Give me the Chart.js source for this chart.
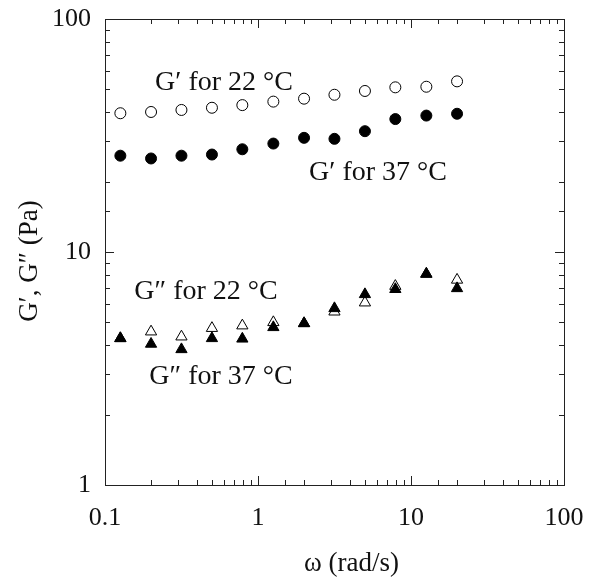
<!DOCTYPE html>
<html>
<head>
<meta charset="utf-8">
<script src="https://cdn.jsdelivr.net/npm/chart.js@4"></script>
<style>
  html, body { margin: 0; padding: 0; background: #fff; }
  #wrap { width: 596px; height: 578px; }
</style>
</head>
<body>
<div id="wrap"><canvas id="chart"></canvas></div>
<script>
// angular frequency (rad/s)
const omega = [0.126, 0.2, 0.316, 0.5, 0.79, 1.26, 2, 3.16, 5, 7.9, 12.6, 20];
// storage modulus G' (Pa)
const gPrime22 = [39.4, 39.9, 40.7, 41.6, 42.7, 44.2, 45.5, 47.3, 49.1, 50.9, 51.2, 54.0];
const gPrime37 = [25.9, 25.2, 25.9, 26.2, 27.6, 29.2, 30.9, 30.6, 33.0, 37.2, 38.5, 39.2];
// loss modulus G'' (Pa)
const gDouble22 = [4.26, 4.55, 4.33, 4.71, 4.83, 4.99, 4.94, 5.54, 6.06, 7.14, 8.05, 7.59];
const gDouble37 = [4.26, 4.03, 3.82, 4.26, 4.24, 4.75, 4.94, 5.73, 6.58, 6.92, 8.05, 6.98];
// labels only at the decades
const xTickLabels = [0.1, 1, 10, 100];
const yTickLabels = [1, 10, 100];

const FONT = "'Liberation Serif', 'Times New Roman', serif";

function pts(ys) {
    return omega.map(function (x, i) { return { x: x, y: ys[i] }; });
}

function isDecade(v) {
    var l = Math.log10(v);
    return Math.abs(l - Math.round(l)) < 1e-9;
}

// the text labels next to the series, placed in data coordinates
const notes = [
    { text: "G\u2032 for 22 \u00B0C", x: 0.60, y: 53.1 },
    { text: "G\u2032 for 37 \u00B0C", x: 6.09, y: 21.8 },
    { text: "G\u2033 for 22 \u00B0C", x: 0.457, y: 6.74 },
    { text: "G\u2033 for 37 \u00B0C", x: 0.573, y: 2.91 }
];

// box round the plot with inward ticks on all four sides, axis titles and the notes
const framePlugin = {
    id: 'frame',
    afterDraw: function (chart) {
        var ctx = chart.ctx;
        var a = chart.chartArea;
        var xs = chart.scales.x, ys = chart.scales.y;
        ctx.save();
        ctx.strokeStyle = '#222';
        ctx.lineWidth = 1;
        ctx.strokeRect(a.left + 0.5, a.top + 0.5, a.right - a.left, a.bottom - a.top);
        ctx.beginPath();
        xs.ticks.forEach(function (t) {
            var px = Math.round(xs.getPixelForValue(t.value)) + 0.5;
            var len = isDecade(t.value) ? 9 : 5;
            ctx.moveTo(px, a.bottom); ctx.lineTo(px, a.bottom - len);
            ctx.moveTo(px, a.top); ctx.lineTo(px, a.top + len);
        });
        ys.ticks.forEach(function (t) {
            var py = Math.round(ys.getPixelForValue(t.value)) + 0.5;
            var len = isDecade(t.value) ? 9 : 5;
            ctx.moveTo(a.left, py); ctx.lineTo(a.left + len, py);
            ctx.moveTo(a.right, py); ctx.lineTo(a.right - len, py);
        });
        ctx.stroke();

        ctx.fillStyle = '#111';
        ctx.textAlign = 'center';
        ctx.textBaseline = 'middle';
        ctx.font = '28px ' + FONT;
        notes.forEach(function (n) {
            ctx.fillText(n.text, xs.getPixelForValue(n.x), ys.getPixelForValue(n.y));
        });

        // axis titles
        ctx.font = '27px ' + FONT;
        ctx.fillText('\u03C9 (rad/s)', (a.left + a.right) / 2 + 17, 564);
        ctx.translate(30, (a.top + a.bottom) / 2 + 9);
        ctx.rotate(-Math.PI / 2);
        ctx.fillText('G\u2032, G\u2033 (Pa)', 0, 0);
        ctx.restore();
    }
};

const config = {
    type: 'scatter',
    data: {
        datasets: [{
            label: "G'' 37",
            data: pts(gDouble37),
            pointStyle: 'triangle',
            pointRadius: 6.5,
            backgroundColor: '#000',
            borderColor: '#000',
            borderWidth: 1,
            order: 1
        }, {
            label: "G'' 22",
            data: pts(gDouble22),
            pointStyle: 'triangle',
            pointRadius: 6.5,
            backgroundColor: '#fff',
            borderColor: '#000',
            borderWidth: 1,
            order: 2
        }, {
            label: "G' 37",
            data: pts(gPrime37),
            pointStyle: 'circle',
            pointRadius: 5.5,
            backgroundColor: '#000',
            borderColor: '#000',
            borderWidth: 1,
            order: 3
        }, {
            label: "G' 22",
            data: pts(gPrime22),
            pointStyle: 'circle',
            pointRadius: 5.5,
            backgroundColor: '#fff',
            borderColor: '#000',
            borderWidth: 1,
            order: 4
        }]
    },
    options: {
        responsive: true,
        maintainAspectRatio: false,
        animation: false,
        layout: { padding: { left: 0, top: 19, right: 32, bottom: 0 } },
        plugins: {
            legend: { display: false },
            tooltip: { enabled: false }
        },
        scales: {
            x: {
                type: 'logarithmic',
                min: 0.1,
                max: 100,
                border: { display: false },
                grid: { display: false, drawTicks: false },
                ticks: {
                    color: '#111',
                    padding: 18,
                    maxRotation: 0,
                    autoSkip: false,
                    font: { family: FONT, size: 26 },
                    callback: function (v) {
                        return xTickLabels.indexOf(v) >= 0 ? String(v) : '';
                    }
                },
                afterFit: function (s) {
                    s.height = 93;
                    s.paddingLeft = 0;
                    s.paddingRight = 0;
                }
            },
            y: {
                type: 'logarithmic',
                min: 1,
                max: 100,
                border: { display: false },
                grid: { display: false, drawTicks: false },
                ticks: {
                    color: '#111',
                    padding: 14,
                    autoSkip: false,
                    font: { family: FONT, size: 26 },
                    callback: function (v) {
                        return yTickLabels.indexOf(v) >= 0 ? String(v) : '';
                    }
                },
                afterFit: function (s) {
                    s.width = 105;
                    s.paddingTop = 0;
                    s.paddingBottom = 0;
                }
            }
        }
    },
    plugins: [framePlugin]
};

const chart = new Chart(document.getElementById('chart'), config);
</script>
</body>
</html>
